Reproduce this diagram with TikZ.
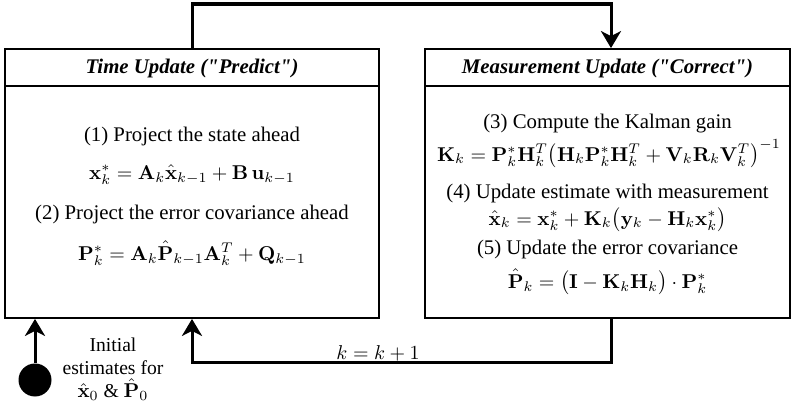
\documentclass[tikz,border=0pt]{standalone}
\usepackage[no-math]{fontspec}
\setmainfont{Liberation Serif}[Ligatures=TeXOff]
\usetikzlibrary{arrows.meta}
\begin{document}
\begin{tikzpicture}[x=0.5pt,y=-0.5pt,
  box/.style={draw,line width=0.9pt,minimum height=134.5pt,inner sep=0pt},
  conn/.style={line width=1.5pt},
  tip/.style={-{Stealth[length=8.5pt,width=10pt,inset=2.5pt]}},
  ttl/.style={anchor=base,inner sep=0pt,font=\fontsize{10.4}{12.5}\selectfont\bfseries\itshape},
  txt/.style={anchor=base,inner sep=0pt,font=\fontsize{10.4}{12.5}\selectfont},
  eq/.style={anchor=base,inner sep=0pt,font=\fontsize{10.2}{12.2}\selectfont}]
\useasboundingbox (0,0) rectangle (794,407);
% boxes
\node[box,minimum width=187pt] (L) at (192,183.5) {};
\node[box,minimum width=182.5pt] (R) at (607.5,183.5) {};
\draw[line width=0.9pt] (L.west |- 0,86) -- (L.east |- 0,86);
\draw[line width=0.9pt] (R.west |- 0,86) -- (R.east |- 0,86);
% titles
\node[ttl] (Lt) at (192,73) {Time Update ("Predict")};
\node[ttl] (Rt) at (607.5,73) {Measurement Update ("Correct")};
% left content
\node[txt] (l1) at (192,141) {(1) Project the state ahead};
\node[eq] (l2) at (192,179) {$\mathbf{x}^*_k = \mathbf{A}_k\hat{\mathbf{x}}_{k-1} + \mathbf{B}\,\mathbf{u}_{k-1}$};
\node[txt] (l3) at (192,219) {(2) Project the error covariance ahead};
\node[eq] (l4) at (192,260) {$\mathbf{P}^*_k = \mathbf{A}_k\hat{\mathbf{P}}_{k-1}\mathbf{A}^T_k + \mathbf{Q}_{k-1}$};
% right content
\node[txt] (r1) at (607.5,128) {(3) Compute the Kalman gain};
\node[eq] (r2) at (609,161) {$\mathbf{K}_k = \mathbf{P}^*_k\mathbf{H}^T_k\bigl(\mathbf{H}_k\mathbf{P}^*_k\mathbf{H}^T_k + \mathbf{V}_k\mathbf{R}_k\mathbf{V}^T_k\bigr)^{-1}$};
\node[txt] (r3) at (607.5,198) {(4) Update estimate with measurement};
\node[eq] (r4) at (607.5,225) {$\hat{\mathbf{x}}_k = \mathbf{x}^*_k + \mathbf{K}_k\bigl(\mathbf{y}_k - \mathbf{H}_k\mathbf{x}^*_k\bigr)$};
\node[txt] (r5) at (607.5,254) {(5) Update the error covariance};
\node[eq] (r6) at (607.5,288) {$\hat{\mathbf{P}}_k = \bigl(\mathbf{I} - \mathbf{K}_k\mathbf{H}_k\bigr)\cdot\mathbf{P}^*_k$};
% connectors
\coordinate (top) at (611,4);
\coordinate (bot) at (611,362);
\draw[conn,tip] (L.north) |- (top) -- (top |- R.north);
\draw[conn,tip] (bot |- R.south) -- (bot) -| (L.south);
\node[anchor=base,inner sep=0pt,font=\fontsize{10}{12}\selectfont] (kk) at (378,359) {$k = k+1$};
% initial
\node[circle,fill=black,minimum size=16.5pt,inner sep=0pt] (init) at (35,380) {};
\draw[conn,tip] (init) -- (init |- L.south);
\node[align=center,inner sep=0pt,font=\fontsize{9.8}{11.5}\selectfont] (lab) at (113,369) {Initial\\estimates for\\$\hat{\mathbf{x}}_0$ \& $\hat{\mathbf{P}}_0$};
\end{tikzpicture}
\end{document}
